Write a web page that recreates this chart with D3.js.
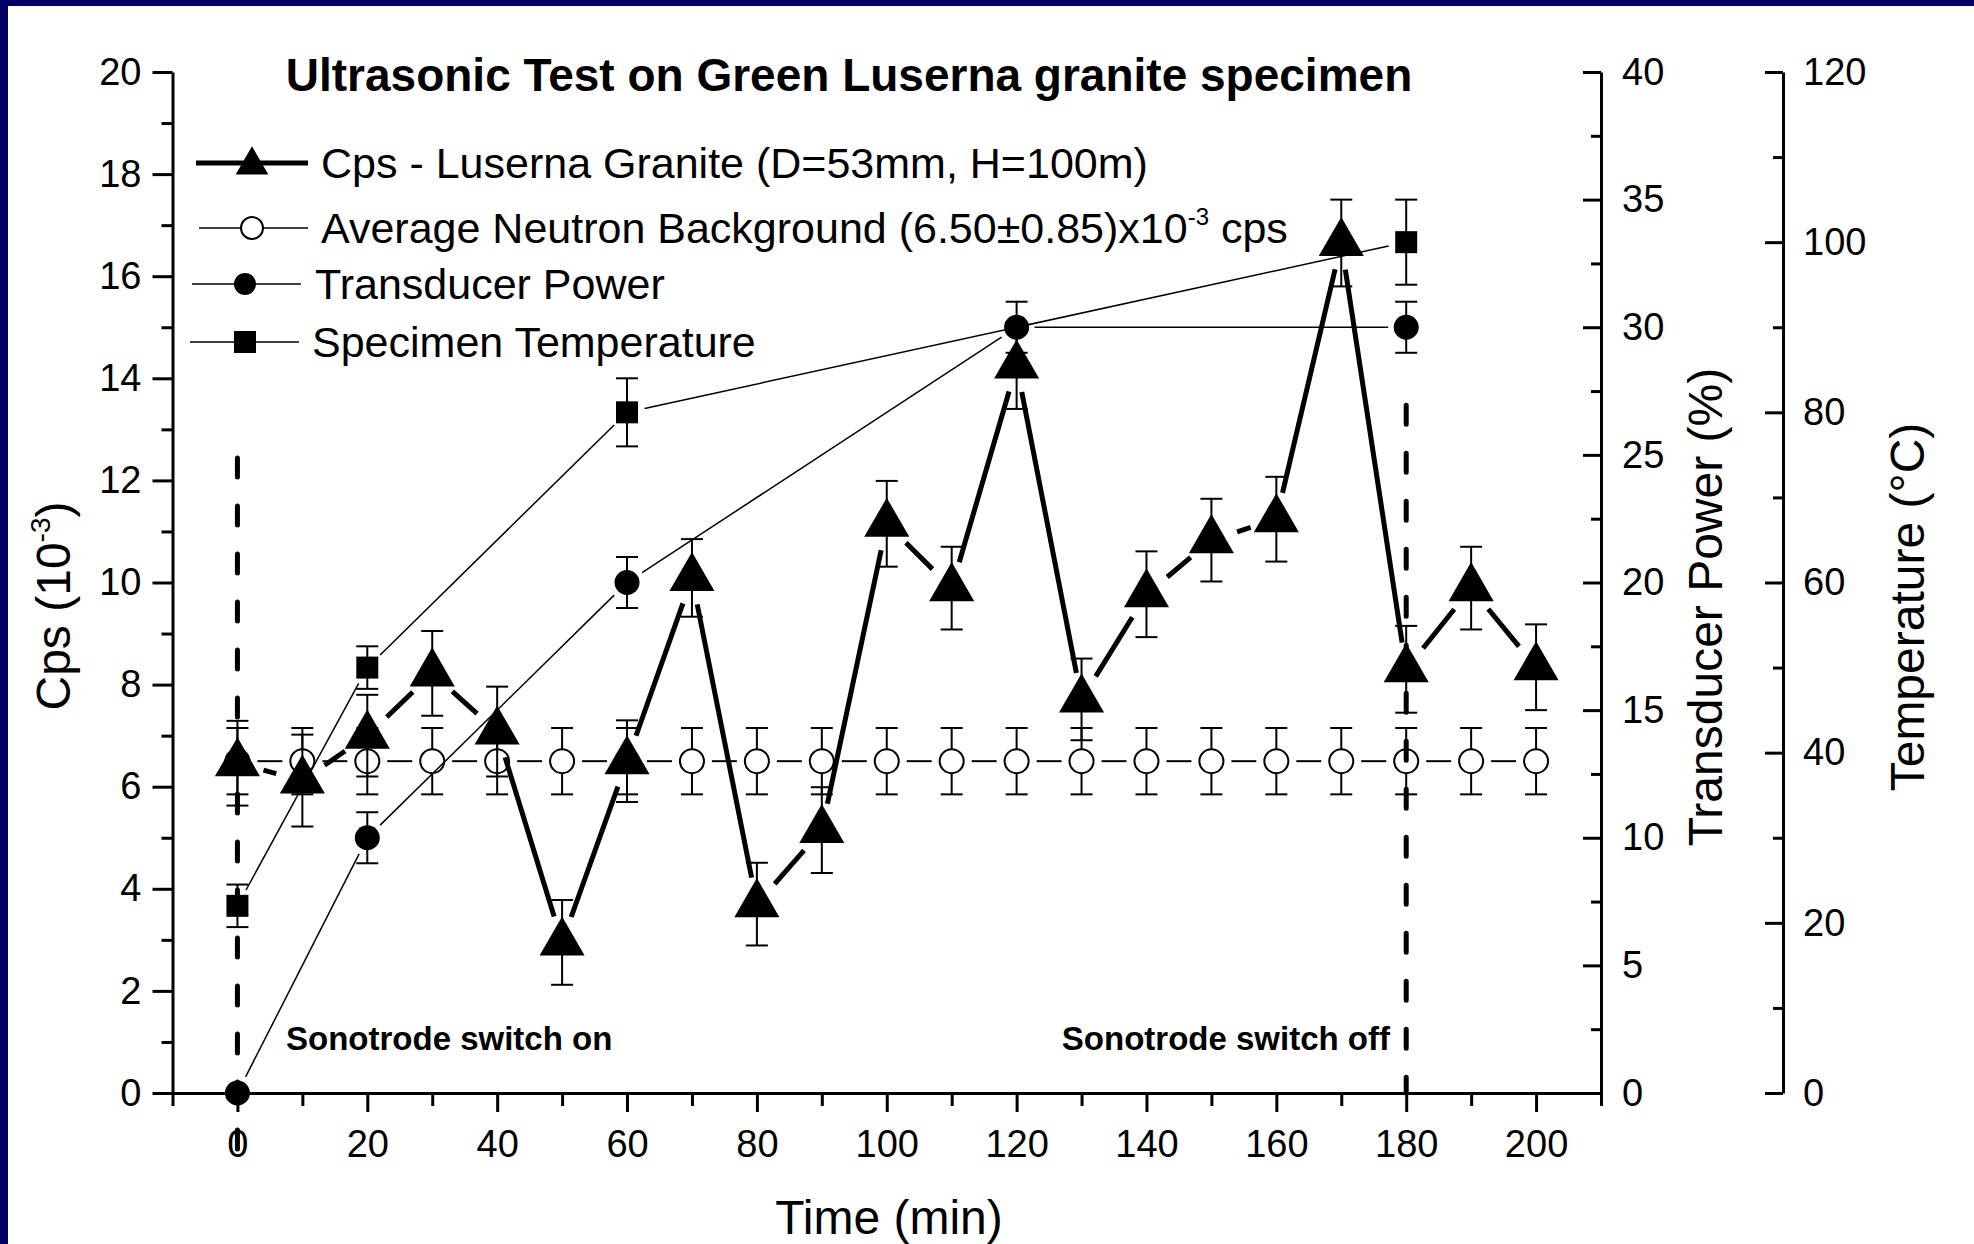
<!DOCTYPE html>
<html>
<head>
<meta charset="utf-8">
<script src="https://cdn.jsdelivr.net/npm/d3@7"></script>
<style>
  body { margin: 0; background: #000066; }
  svg { display: block; }
  text { font-family: 'Liberation Sans', Arial, sans-serif; fill: #000; }
</style>
</head>
<body>
<script>
// Cps - Luserna granite (triangles)
const times = [0, 10, 20, 30, 40, 50, 60, 70, 80, 90, 100, 110, 120, 130, 140, 150, 160, 170, 180, 190, 200]
const cpsValues = [6.46, 6.12, 7.0, 8.22, 7.08, 2.95, 6.5, 10.09, 3.7, 5.15, 11.15, 9.89, 14.25, 7.71, 9.77, 10.83, 11.24, 16.65, 8.3, 9.89, 8.34]
const cpsErrors = [0.83, 0.9, 0.8, 0.83, 0.88, 0.83, 0.8, 0.76, 0.81, 0.84, 0.84, 0.81, 0.85, 0.8, 0.84, 0.81, 0.83, 0.85, 0.85, 0.81, 0.84]

// average neutron background (open circles)
const bgValues = [6.5, 6.5, 6.5, 6.5, 6.5, 6.5, 6.5, 6.5, 6.5, 6.5, 6.5, 6.5, 6.5, 6.5, 6.5, 6.5, 6.5, 6.5, 6.5, 6.5, 6.5]
const bgErrors = [0.65, 0.65, 0.65, 0.65, 0.65, 0.65, 0.65, 0.65, 0.65, 0.65, 0.65, 0.65, 0.65, 0.65, 0.65, 0.65, 0.65, 0.65, 0.65, 0.65, 0.65]

// transducer power (%)
const powerTimes = [0, 20, 60, 120, 180]
const powerValues = [0, 10, 20, 30, 30]
const powerErrors = [0, 1, 1, 1, 1]

// specimen temperature (°C)
const tempTimes = [0, 20, 60, 180]
const tempValues = [22, 50, 80, 100]
const tempErrors = [2.5, 2.5, 4, 5]

// sonotrode on / off markers (in cps units)
const switchTimes = [0, 180]
const switchTops = [12.44, 13.47]
const switchBottoms = [-1.3, 0]

const xMajor = [0, 20, 40, 60, 80, 100, 120, 140, 160, 180, 200]
const xMinor = [-10, 10, 30, 50, 70, 90, 110, 130, 150, 170, 190, 210]
const cpsMajor = [0, 2, 4, 6, 8, 10, 12, 14, 16, 18, 20]
const cpsMinor = [1, 3, 5, 7, 9, 11, 13, 15, 17, 19]
const powerMajor = [0, 5, 10, 15, 20, 25, 30, 35, 40]
const powerMinor = [2.5, 7.5, 12.5, 17.5, 22.5, 27.5, 32.5, 37.5]
const tempMajor = [0, 20, 40, 60, 80, 100, 120]
const tempMinor = [10, 30, 50, 70, 90, 110]

const W = 1974
const H = 1244
const plot = { left: 172.5, right: 1601, top: 72, bottom: 1093 }
const tempAxisX = 1783
const tickFont = 38
const capW = 11

const x = d3.scaleLinear().domain([-10, 210]).range([plot.left, plot.right])
const yCps = d3.scaleLinear().domain([0, 20]).range([plot.bottom, plot.top])
const yPower = d3.scaleLinear().domain([0, 40]).range([plot.bottom, plot.top])
const yTemp = d3.scaleLinear().domain([0, 120]).range([plot.bottom, plot.top])

const svg = d3.select('body').append('svg')
  .attr('width', W)
  .attr('height', H)

svg.append('rect')
  .attr('x', 8).attr('y', 6)
  .attr('width', W - 8).attr('height', H - 6)
  .attr('fill', '#fff')

// line segments that stop short of the symbols, like Origin does
const gapped = (pts, gap) => pts.slice(1).map((b, i) => {
  const a = pts[i]
  const dx = b[0] - a[0]
  const dy = b[1] - a[1]
  const len = Math.hypot(dx, dy)
  if (len <= gap * 2) return null
  const ux = dx / len
  const uy = dy / len
  return [a[0] + ux * gap, a[1] + uy * gap, b[0] - ux * gap, b[1] - uy * gap]
}).filter(s => s)

const drawSegments = (pts, gap, width) => {
  svg.append('g').selectAll('line')
    .data(gapped(pts, gap))
    .enter().append('line')
    .attr('x1', d => d[0]).attr('y1', d => d[1])
    .attr('x2', d => d[2]).attr('y2', d => d[3])
    .attr('stroke', '#000')
    .attr('stroke-width', width)
}

const drawErrors = (ts, vs, es, y) => {
  const g = svg.append('g')
    .attr('stroke', '#000')
    .attr('stroke-width', 2)
  ts.forEach((t, i) => {
    if (!es[i]) return
    const cx = x(t)
    const top = y(vs[i] + es[i])
    const bot = y(vs[i] - es[i])
    g.append('line').attr('x1', cx).attr('x2', cx).attr('y1', top).attr('y2', bot)
    g.append('line').attr('x1', cx - capW).attr('x2', cx + capW).attr('y1', top).attr('y2', top)
    g.append('line').attr('x1', cx - capW).attr('x2', cx + capW).attr('y1', bot).attr('y2', bot)
  })
}

// ---- neutron background ----
drawErrors(times, bgValues, bgErrors, yCps)
drawSegments(times.map((t, i) => [x(t), yCps(bgValues[i])]), 20, 2)
svg.append('g').selectAll('circle')
  .data(times)
  .enter().append('circle')
  .attr('cx', d => x(d))
  .attr('cy', (d, i) => yCps(bgValues[i]))
  .attr('r', 12)
  .attr('fill', '#fff')
  .attr('stroke', '#000')
  .attr('stroke-width', 2)

// ---- cps ----
drawErrors(times, cpsValues, cpsErrors, yCps)
drawSegments(times.map((t, i) => [x(t), yCps(cpsValues[i])]), 27, 5)
const triangle = d3.symbol().type(d3.symbolTriangle).size(880)
svg.append('g').selectAll('path')
  .data(times)
  .enter().append('path')
  .attr('d', triangle())
  .attr('transform', (d, i) => `translate(${x(d)},${yCps(cpsValues[i])})`)
  .attr('fill', '#000')

// ---- transducer power ----
drawErrors(powerTimes, powerValues, powerErrors, yPower)
drawSegments(powerTimes.map((t, i) => [x(t), yPower(powerValues[i])]), 18, 1.5)
svg.append('g').selectAll('circle')
  .data(powerTimes)
  .enter().append('circle')
  .attr('cx', d => x(d))
  .attr('cy', (d, i) => yPower(powerValues[i]))
  .attr('r', 12.5)
  .attr('fill', '#000')

// ---- specimen temperature ----
drawErrors(tempTimes, tempValues, tempErrors, yTemp)
drawSegments(tempTimes.map((t, i) => [x(t), yTemp(tempValues[i])]), 18, 1.5)
svg.append('g').selectAll('rect')
  .data(tempTimes)
  .enter().append('rect')
  .attr('x', d => x(d) - 11)
  .attr('y', (d, i) => yTemp(tempValues[i]) - 11)
  .attr('width', 22)
  .attr('height', 22)
  .attr('fill', '#000')

// ---- sonotrode switch lines ----
svg.append('g').selectAll('line')
  .data(switchTimes)
  .enter().append('line')
  .attr('x1', d => x(d)).attr('x2', d => x(d))
  .attr('y1', (d, i) => yCps(switchTops[i]))
  .attr('y2', (d, i) => yCps(switchBottoms[i]))
  .attr('stroke', '#000')
  .attr('stroke-width', 5)
  .attr('stroke-linecap', 'round')
  .attr('stroke-dasharray', '19,29')

// ---- axes ----
const styleAxis = (g, pad) => {
  g.selectAll('.domain').attr('stroke-width', 3)
  g.selectAll('.tick line').attr('stroke-width', 3)
  g.selectAll('.tick text')
    .attr('font-size', tickFont)
    .attr('font-family', "'Liberation Sans', Arial, sans-serif")
}

const xAxis = svg.append('g')
  .attr('transform', `translate(0,${plot.bottom})`)
  .call(d3.axisBottom(x).tickValues(xMajor).tickSize(19).tickSizeOuter(0).tickPadding(18).tickFormat(d3.format('d')))
styleAxis(xAxis)
const xMinorAxis = svg.append('g')
  .attr('transform', `translate(0,${plot.bottom})`)
  .call(d3.axisBottom(x).tickValues(xMinor).tickSize(13).tickSizeOuter(0).tickFormat(''))
styleAxis(xMinorAxis)
xMinorAxis.select('.domain').remove()

const yAxis = svg.append('g')
  .attr('transform', `translate(${plot.left},0)`)
  .call(d3.axisLeft(yCps).tickValues(cpsMajor).tickSize(20).tickSizeOuter(0).tickPadding(11))
styleAxis(yAxis)
const yMinorAxis = svg.append('g')
  .attr('transform', `translate(${plot.left},0)`)
  .call(d3.axisLeft(yCps).tickValues(cpsMinor).tickSize(11).tickSizeOuter(0).tickFormat(''))
styleAxis(yMinorAxis)
yMinorAxis.select('.domain').remove()

const pAxis = svg.append('g')
  .attr('transform', `translate(${plot.right},0)`)
  .call(d3.axisRight(yPower).tickValues(powerMajor).tickSizeInner(-18).tickSizeOuter(0).tickPadding(21))
styleAxis(pAxis)
const pMinorAxis = svg.append('g')
  .attr('transform', `translate(${plot.right},0)`)
  .call(d3.axisRight(yPower).tickValues(powerMinor).tickSizeInner(-10).tickSizeOuter(0).tickFormat(''))
styleAxis(pMinorAxis)
pMinorAxis.select('.domain').remove()

const tAxis = svg.append('g')
  .attr('transform', `translate(${tempAxisX},0)`)
  .call(d3.axisRight(yTemp).tickValues(tempMajor).tickSizeInner(-18).tickSizeOuter(0).tickPadding(20))
styleAxis(tAxis)
const tMinorAxis = svg.append('g')
  .attr('transform', `translate(${tempAxisX},0)`)
  .call(d3.axisRight(yTemp).tickValues(tempMinor).tickSizeInner(-10).tickSizeOuter(0).tickFormat(''))
styleAxis(tMinorAxis)
tMinorAxis.select('.domain').remove()

// ---- axis titles ----
svg.append('text')
  .attr('x', 889).attr('y', 1234)
  .attr('text-anchor', 'middle')
  .attr('font-size', 48)
  .text('Time (min)')

const cpsTitle = svg.append('text')
  .attr('transform', 'translate(70,606) rotate(-90)')
  .attr('text-anchor', 'middle')
  .attr('font-size', 48)
cpsTitle.append('tspan').text('Cps (10')
cpsTitle.append('tspan').attr('font-size', 28).attr('dy', -20).text('-3')
cpsTitle.append('tspan').attr('dy', 20).text(')')

svg.append('text')
  .attr('transform', 'translate(1722,607) rotate(-90)')
  .attr('text-anchor', 'middle')
  .attr('font-size', 48)
  .text('Transducer Power (%)')

svg.append('text')
  .attr('transform', 'translate(1924,607) rotate(-90)')
  .attr('text-anchor', 'middle')
  .attr('font-size', 48)
  .text('Temperature (°C)')

// ---- title ----
svg.append('text')
  .attr('x', 849).attr('y', 91)
  .attr('text-anchor', 'middle')
  .attr('font-size', 46)
  .attr('font-weight', 'bold')
  .text('Ultrasonic Test on Green Luserna granite specimen')

// ---- annotations ----
svg.append('text')
  .attr('x', 286).attr('y', 1050)
  .attr('font-size', 33)
  .attr('font-weight', 'bold')
  .text('Sonotrode switch on')

svg.append('text')
  .attr('x', 1390).attr('y', 1050)
  .attr('text-anchor', 'end')
  .attr('font-size', 33)
  .attr('font-weight', 'bold')
  .text('Sonotrode switch off')

// ---- legend ----
const legend = svg.append('g')
const legendFont = 43

legend.append('line').attr('x1', 196).attr('x2', 308).attr('y1', 163).attr('y2', 163)
  .attr('stroke', '#000').attr('stroke-width', 5)
legend.append('path').attr('d', d3.symbol().type(d3.symbolTriangle).size(460)())
  .attr('transform', 'translate(252,165)')
legend.append('text').attr('x', 321).attr('y', 163).attr('dy', '0.35em')
  .attr('font-size', legendFont)
  .text('Cps - Luserna Granite (D=53mm, H=100m)')

legend.append('line').attr('x1', 199).attr('x2', 308).attr('y1', 228).attr('y2', 228)
  .attr('stroke', '#000').attr('stroke-width', 1.5)
legend.append('circle').attr('cx', 252).attr('cy', 228).attr('r', 11)
  .attr('fill', '#fff').attr('stroke', '#000').attr('stroke-width', 2)
const bgLabel = legend.append('text').attr('x', 321).attr('y', 228).attr('dy', '0.35em')
  .attr('font-size', legendFont)
bgLabel.append('tspan').text('Average Neutron Background (6.50±0.85)x10')
bgLabel.append('tspan').attr('font-size', 24).attr('dy', -18).text('-3')
bgLabel.append('tspan').attr('dy', 18).text(' cps')

legend.append('line').attr('x1', 192).attr('x2', 301).attr('y1', 284).attr('y2', 284)
  .attr('stroke', '#000').attr('stroke-width', 1.5)
legend.append('circle').attr('cx', 245).attr('cy', 284).attr('r', 11)
  .attr('fill', '#000')
legend.append('text').attr('x', 315).attr('y', 284).attr('dy', '0.35em')
  .attr('font-size', legendFont)
  .text('Transducer Power')

legend.append('line').attr('x1', 190).attr('x2', 299).attr('y1', 342).attr('y2', 342)
  .attr('stroke', '#000').attr('stroke-width', 1.5)
legend.append('rect').attr('x', 234).attr('y', 331).attr('width', 22).attr('height', 22)
  .attr('fill', '#000')
legend.append('text').attr('x', 312).attr('y', 342).attr('dy', '0.35em')
  .attr('font-size', legendFont)
  .text('Specimen Temperature')
</script>
</body>
</html>
